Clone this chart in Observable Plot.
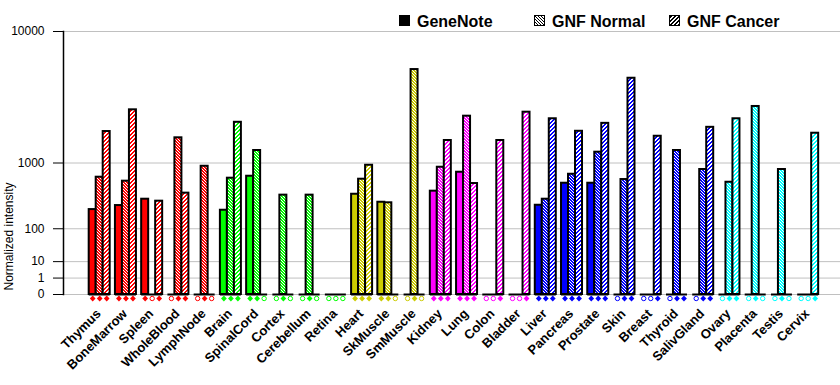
<!DOCTYPE html>
<html>
<head>
<meta charset="utf-8">
<script src="https://cdn.jsdelivr.net/npm/d3@7"></script>
<script src="https://cdn.jsdelivr.net/npm/@observablehq/plot@0.6"></script>
<style>
  body { margin: 0; background: #ffffff; }
  #wrap { position: relative; width: 840px; height: 385px; overflow: hidden; }
  #legend { position: absolute; left: 0; top: 0; }
</style>
</head>
<body>
<div id="wrap"></div>
<script>
// ---------------- data ----------------
const tissues = ["Thymus","BoneMarrow","Spleen","WholeBlood","LymphNode","Brain","SpinalCord","Cortex","Cerebellum","Retina","Heart","SkMuscle","SmMuscle","Kidney","Lung","Colon","Bladder","Liver","Pancreas","Prostate","Skin","Breast","Thyroid","SalivGland","Ovary","Placenta","Testis","Cervix"];
const tissueColors = ["#ff0000","#ff0000","#ff0000","#ff0000","#ff0000","#00ff00","#00ff00","#00ff00","#00ff00","#00ff00","#cccc00","#cccc00","#cccc00","#ff00ff","#ff00ff","#ff00ff","#ff00ff","#0000ff","#0000ff","#0000ff","#0000ff","#0000ff","#0000ff","#0000ff","#00ffff","#00ffff","#00ffff","#00ffff"];
const seriesNames = ["GeneNote","GNF Normal","GNF Cancer"];
const geneNote  = [234, 273, 343, 0, 0, 228, 703, 0, 0, 0, 406, 308, 0, 449, 785, 0, 0, 276, 574, 574, 0, 0, 0, 0, 0, 0, 0, 0];
const gnfNormal = [684, 610, 0, 1790, 920, 665, 1352, 394, 394, 0, 646, 302, 5950, 897, 2750, 0, 0, 343, 743, 1300, 640, 0, 1352, 845, 591, 3280, 845, 0];
const gnfCancer = [2040, 3090, 320, 421, 0, 2450, 0, 0, 0, 0, 944, 0, 0, 1690, 569, 1690, 2960, 2620, 2050, 2400, 5220, 1850, 0, 2220, 2620, 0, 0, 1970];
// presence calls (filled / open markers under each bar)
const geneNotePresent  = [1,1,1,0,0,1,1,0,0,0,1,1,0,1,1,0,0,1,1,1,0,0,0,0,0,0,0,0];
const gnfNormalPresent = [1,1,0,1,1,1,1,1,1,0,1,1,1,1,1,0,0,1,1,1,1,0,1,1,1,1,1,0];
const gnfCancerPresent = [1,1,1,1,0,1,0,0,0,0,1,0,0,1,1,1,1,1,1,1,1,1,1,1,1,0,0,1];
const yTicks = [0, 1, 10, 100, 1000, 10000];
const yLabel = "Normalized intensity";

// ---------------- build ----------------
const FONT = "'Liberation Sans', Arial, Helvetica, sans-serif";
const palette = Array.from(new Set(tissueColors));
const rows = tissues.map((t, i) => ({
  tissue: t, color: tissueColors[i], k: palette.indexOf(tissueColors[i]),
  v0: geneNote[i], v1: gnfNormal[i], v2: gnfCancer[i],
  p0: geneNotePresent[i], p1: gnfNormalPresent[i], p2: gnfCancerPresent[i]
}));

const SLOT = 7;
function bars(s) {
  const key = "v" + s;
  return Plot.barY(rows.filter(d => d[key] > 0), {
    x: "tissue", y1: 0, y2: key,
    fill: s === 0 ? (d => d.color) : (d => `url(#${s === 1 ? "pn" : "pc"}${d.k})`),
    stroke: "black", strokeWidth: 2,
    insetLeft: SLOT * s, insetRight: 2 * SLOT - SLOT * s
  });
}
function markers(s) {
  const key = "p" + s;
  return [
    Plot.dot(rows.filter(d => d[key]), {
      x: "tissue", frameAnchor: "bottom", dx: (s - 1) * SLOT, dy: 4,
      symbol: "diamond2", r: 2.6, fill: d => d.color, stroke: "none"
    }),
    Plot.dot(rows.filter(d => !d[key]), {
      x: "tissue", frameAnchor: "bottom", dx: (s - 1) * SLOT, dy: 4,
      symbol: "circle", r: 2.2, fill: "white", stroke: d => d.color, strokeWidth: 1
    })
  ];
}

const chart = Plot.plot({
  width: 840, height: 385,
  marginLeft: 63, marginRight: 0, marginTop: 31, marginBottom: 91,
  style: { fontFamily: FONT, color: "black", background: "white", overflow: "visible" },
  color: { type: "identity" },
  x: { type: "band", domain: tissues, paddingInner: 0.2, paddingOuter: 0.9055, align: 0.5407, round: false, axis: null },
  y: { type: "pow", exponent: Math.log10(2), domain: [0, 10000], axis: null },
  marks: [
    Plot.gridY(yTicks, { stroke: "#c0c0c0", strokeOpacity: 1, strokeWidth: 1 }),
    Plot.axisY(yTicks, { tickSize: 10, tickPadding: 9, fontSize: 12, tickFormat: d => String(d), label: null, stroke: "black", fill: "black" }),
    Plot.frame({ anchor: "left", stroke: "black", strokeWidth: 1.5 }),
    Plot.tickY(tissues, { x: d => d, y: 0, stroke: "black", strokeWidth: 2 }),
    bars(0), bars(1), bars(2),
    ...markers(0), ...markers(1), ...markers(2),
    Plot.text(tissues, { x: d => d, frameAnchor: "bottom", rotate: -45, textAnchor: "end", dx: 2, dy: 20, fontSize: 13, fontWeight: "bold", fill: "black" }),
    Plot.text([yLabel], { frameAnchor: "bottom-left", rotate: -90, textAnchor: "start", dx: -50.5, dy: -4, fontSize: 12, fill: "black" })
  ]
});

// hatch patterns (per colour): GNF Normal = thin "\" lines, GNF Cancer = wide "/" stripes
const svg = d3.select(chart);
const defs = svg.insert("defs", ":first-child");
function addPatterns(defsSel, prefix, k, bg, fg) {
  const pn = defsSel.append("pattern").attr("id", prefix + "n" + k)
    .attr("patternUnits", "userSpaceOnUse").attr("width", 3).attr("height", 3);
  pn.append("rect").attr("width", 3).attr("height", 3).attr("fill", bg);
  for (let r = 0; r < 3; r++)
    pn.append("rect").attr("x", r).attr("y", r).attr("width", 1).attr("height", 1).attr("fill", fg).attr("shape-rendering", "crispEdges");
  const pc = defsSel.append("pattern").attr("id", prefix + "c" + k)
    .attr("patternUnits", "userSpaceOnUse").attr("width", 4).attr("height", 4);
  pc.append("rect").attr("width", 4).attr("height", 4).attr("fill", bg);
  for (let r = 0; r < 4; r++)
    for (const c of [(2 - r + 4) % 4, (3 - r + 4) % 4])
      pc.append("rect").attr("x", c).attr("y", r).attr("width", 1).attr("height", 1).attr("fill", fg).attr("shape-rendering", "crispEdges");
}
palette.forEach((c, k) => addPatterns(defs, "p", k, c, "white"));

document.getElementById("wrap").appendChild(chart);

// legend (above the plot area)
const leg = d3.select("#wrap").append("svg").attr("id", "legend").attr("width", 840).attr("height", 31)
  .style("font-family", FONT);
const ldefs = leg.append("defs");
addPatterns(ldefs, "L", 0, "white", "black");
const legendX = [399, 534, 669];
seriesNames.forEach((name, s) => {
  const x0 = legendX[s];
  leg.append("rect").attr("x", x0 + 0.5).attr("y", 15.5).attr("width", 10).attr("height", 10)
    .attr("fill", s === 0 ? "black" : `url(#L${s === 1 ? "n" : "c"}0)`)
    .attr("stroke", "black").attr("stroke-width", 1);
  leg.append("text").attr("x", x0 + 18).attr("y", 27).attr("font-size", 16).attr("font-weight", "bold")
    .attr("fill", "black").text(name);
});
</script>
</body>
</html>
